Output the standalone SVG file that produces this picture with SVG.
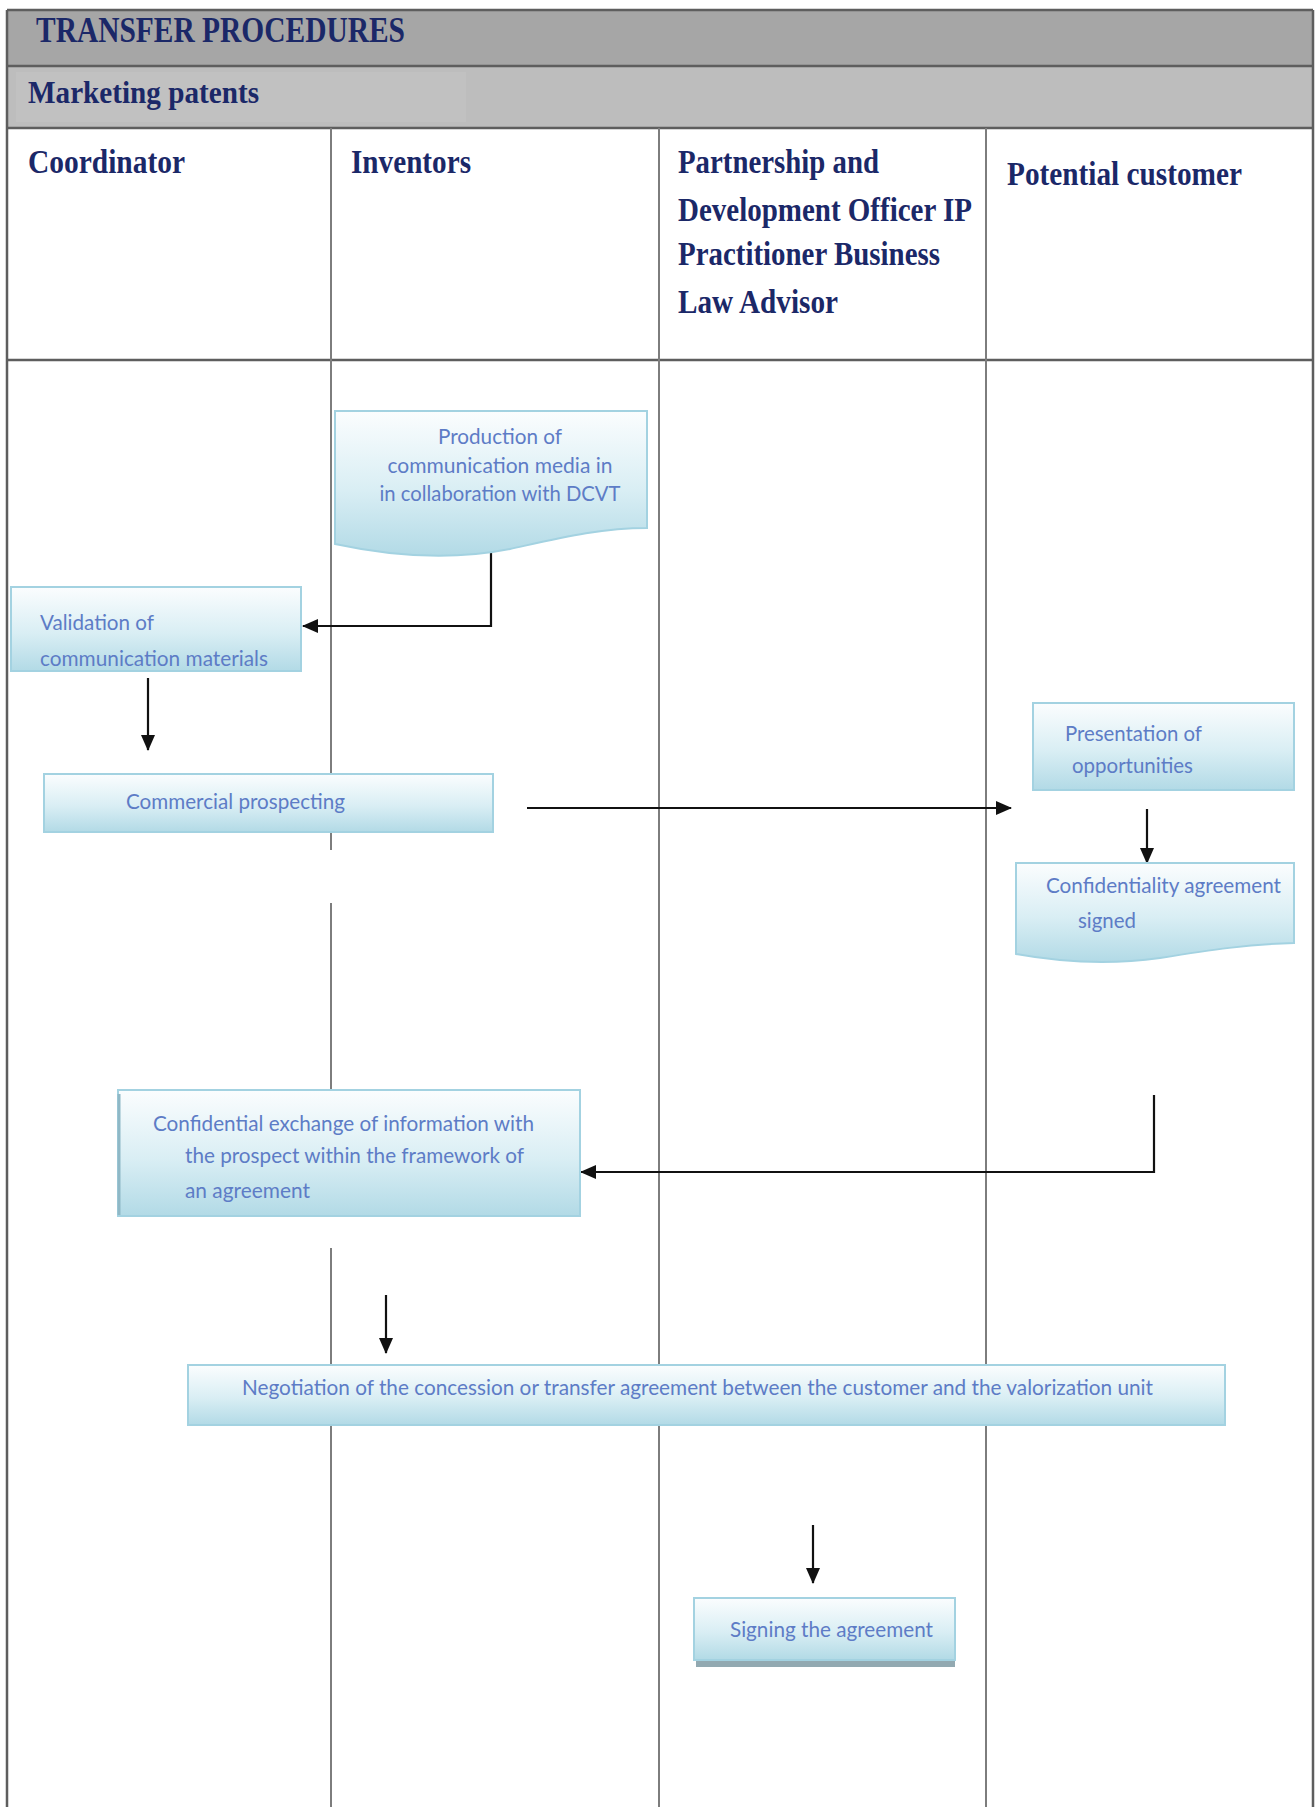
<svg xmlns="http://www.w3.org/2000/svg" width="1316" height="1807" viewBox="0 0 1316 1807">
  <defs>
    <linearGradient id="boxFill" x1="0" y1="0" x2="0" y2="1">
      <stop offset="0" stop-color="#fbfdfe"/>
      <stop offset="0.55" stop-color="#d9eef4"/>
      <stop offset="1" stop-color="#b2dae6"/>
    </linearGradient>
    <marker id="arrow" markerUnits="userSpaceOnUse" markerWidth="16" markerHeight="14" refX="15" refY="7" orient="auto">
      <path d="M0,0 L16,7 L0,14 Z" fill="#111"/>
    </marker>
    <style>
      .band1 { fill: #a6a6a6; }
      .band2 { fill: #bdbdbd; }
      .border { stroke: #5e5e5e; stroke-width: 2.5; fill: none; }
      .lane { stroke: #7d7d7d; stroke-width: 2; fill: none; }
      .head { font-family: "Liberation Serif", "Times New Roman", serif; font-weight: bold; fill: #1b2868; }
      .box { fill: url(#boxFill); stroke: #a3d2e1; stroke-width: 2; }
      .label { font-family: Lato, "Open Sans", "Liberation Sans", sans-serif; font-size: 21px; fill: #5d7cc6; }
      .conn { stroke: #111; stroke-width: 2.2; fill: none; }
    </style>
  </defs>

  <rect x="0" y="0" width="1316" height="1807" fill="#ffffff"/>

  <!-- Title and section bands -->
  <g id="title-band">
    <rect class="band1" x="7" y="10" width="1306" height="56"/>
    <rect class="band2" x="7" y="66" width="1306" height="62"/>
    <rect x="16" y="72" width="450" height="50" fill="#c1c1c1"/>
    <line class="border" x1="7" y1="10" x2="1313" y2="10"/>
    <line class="border" x1="7" y1="66" x2="1313" y2="66"/>
    <line class="border" x1="7" y1="128" x2="1313" y2="128"/>
    <text class="head" x="36" y="42" font-size="36" textLength="369" lengthAdjust="spacingAndGlyphs">TRANSFER PROCEDURES</text>
    <text class="head" x="28" y="103" font-size="32" textLength="231" lengthAdjust="spacingAndGlyphs">Marketing patents</text>
  </g>

  <!-- Swimlane frame -->
  <g id="lanes">
    <line class="border" x1="7" y1="10" x2="7" y2="1807"/>
    <line class="border" x1="1313" y1="10" x2="1313" y2="1807"/>
    <line class="border" x1="7" y1="360" x2="1313" y2="360"/>
    <line class="lane" x1="331" y1="128" x2="331" y2="850"/>
    <line class="lane" x1="331" y1="903" x2="331" y2="1100"/>
    <line class="lane" x1="331" y1="1248" x2="331" y2="1807"/>
    <line class="lane" x1="659" y1="128" x2="659" y2="1807"/>
    <line class="lane" x1="986" y1="128" x2="986" y2="1807"/>
  </g>

  <!-- Lane headers -->
  <g id="lane-headers">
    <text class="head" x="28" y="173" font-size="34" textLength="157" lengthAdjust="spacingAndGlyphs">Coordinator</text>
    <text class="head" x="351" y="173" font-size="34" textLength="120" lengthAdjust="spacingAndGlyphs">Inventors</text>
    <text class="head" x="678" y="173" font-size="34" textLength="201" lengthAdjust="spacingAndGlyphs">Partnership and</text>
    <text class="head" x="678" y="221" font-size="34" textLength="294" lengthAdjust="spacingAndGlyphs">Development Officer IP</text>
    <text class="head" x="678" y="265" font-size="34" textLength="262" lengthAdjust="spacingAndGlyphs">Practitioner Business</text>
    <text class="head" x="678" y="313" font-size="34" textLength="160" lengthAdjust="spacingAndGlyphs">Law Advisor</text>
    <text class="head" x="1007" y="185" font-size="34" textLength="235" lengthAdjust="spacingAndGlyphs">Potential customer</text>
  </g>

  <!-- Connectors -->
  <g id="connectors">
    <path class="conn" d="M491,553 V626 H303" marker-end="url(#arrow)"/>
    <path class="conn" d="M148,678 V750" marker-end="url(#arrow)"/>
    <path class="conn" d="M527,808 H1011" marker-end="url(#arrow)"/>
    <path class="conn" d="M1147,809 V863" marker-end="url(#arrow)"/>
    <path class="conn" d="M1154,1095 V1172 H581" marker-end="url(#arrow)"/>
    <path class="conn" d="M386,1295 V1353" marker-end="url(#arrow)"/>
    <path class="conn" d="M813,1525 V1583" marker-end="url(#arrow)"/>
  </g>

  <!-- Process steps -->
  <g id="production">
    <path class="box" d="M335,411 H647 V528 C600,528 560,538 510,549 C460,559 400,558 335,544 Z"/>
    <text class="label" x="500" y="444" text-anchor="middle" textLength="124" lengthAdjust="spacingAndGlyphs">Production of</text>
    <text class="label" x="500" y="473" text-anchor="middle" textLength="225" lengthAdjust="spacingAndGlyphs">communication media in</text>
    <text class="label" x="500" y="501" text-anchor="middle" textLength="241" lengthAdjust="spacingAndGlyphs">in collaboration with DCVT</text>
  </g>

  <g id="validation">
    <rect class="box" x="11" y="587" width="290" height="84"/>
    <text class="label" x="40" y="630" textLength="114" lengthAdjust="spacingAndGlyphs">Validation of</text>
    <text class="label" x="40" y="666" textLength="228" lengthAdjust="spacingAndGlyphs">communication materials</text>
  </g>

  <g id="prospecting">
    <rect class="box" x="44" y="774" width="449" height="58"/>
    <text class="label" x="126" y="809" textLength="219" lengthAdjust="spacingAndGlyphs">Commercial prospecting</text>
  </g>

  <g id="presentation">
    <rect class="box" x="1033" y="703" width="261" height="87"/>
    <text class="label" x="1065" y="741" textLength="137" lengthAdjust="spacingAndGlyphs">Presentation of</text>
    <text class="label" x="1072" y="773" textLength="121" lengthAdjust="spacingAndGlyphs">opportunities</text>
  </g>

  <g id="confidentiality">
    <path class="box" d="M1016,863 H1294 V943 C1250,944 1210,950 1160,958 C1110,965 1060,962 1016,954 Z"/>
    <text class="label" x="1046" y="893" textLength="235" lengthAdjust="spacingAndGlyphs">Confidentiality agreement</text>
    <text class="label" x="1078" y="928" textLength="58" lengthAdjust="spacingAndGlyphs">signed</text>
  </g>

  <g id="exchange">
    <rect class="box" x="118" y="1090" width="462" height="126"/>
    <line x1="119" y1="1094" x2="119" y2="1215" stroke="#8fb8c6" stroke-width="3"/>
    <text class="label" x="153" y="1131" textLength="381" lengthAdjust="spacingAndGlyphs">Confidential exchange of information with</text>
    <text class="label" x="185" y="1163" textLength="339" lengthAdjust="spacingAndGlyphs">the prospect within the framework of</text>
    <text class="label" x="185" y="1198" textLength="125" lengthAdjust="spacingAndGlyphs">an agreement</text>
  </g>

  <g id="negotiation">
    <rect class="box" x="188" y="1365" width="1037" height="60"/>
    <text class="label" x="242" y="1395" textLength="911" lengthAdjust="spacingAndGlyphs">Negotiation of the concession or transfer agreement between the customer and the valorization unit</text>
  </g>

  <g id="signing">
    <rect x="696" y="1658" width="259" height="9" fill="#92a9b1"/>
    <rect class="box" x="694" y="1598" width="261" height="62"/>
    <text class="label" x="730" y="1637" textLength="203" lengthAdjust="spacingAndGlyphs">Signing the agreement</text>
  </g>
</svg>
